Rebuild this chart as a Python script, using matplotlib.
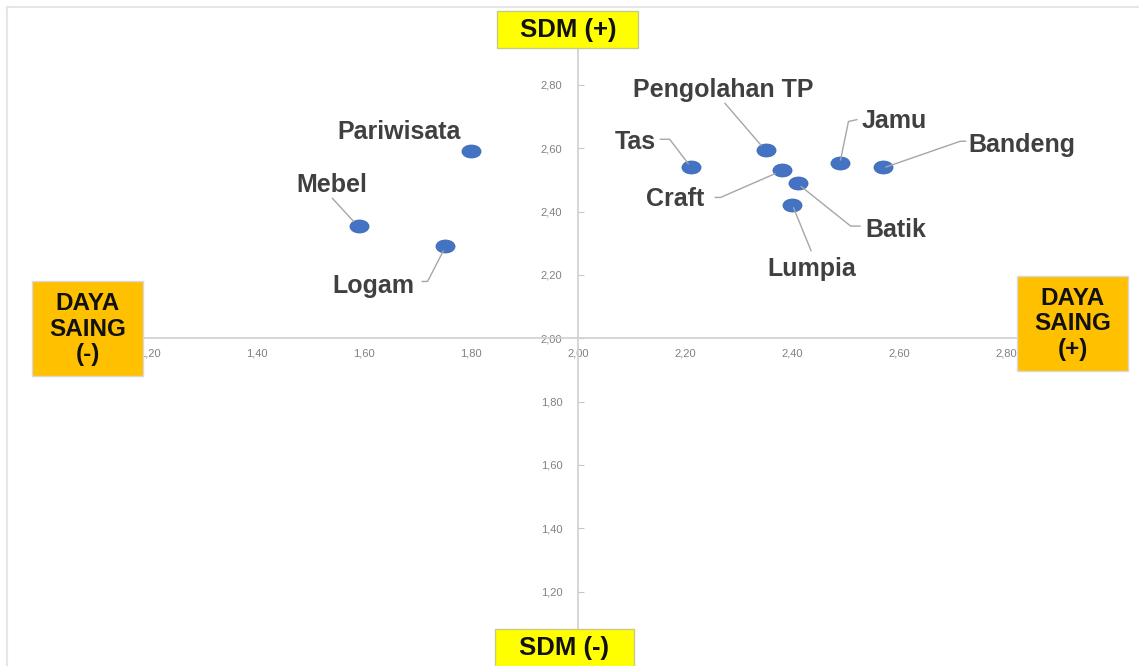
import matplotlib
matplotlib.use("Agg")
import matplotlib.pyplot as plt
from matplotlib.path import Path
from matplotlib.patches import Rectangle
from matplotlib.lines import Line2D
from matplotlib.transforms import Affine2D
from matplotlib.ticker import FuncFormatter, FixedLocator

plt.rcParams['font.family'] = ['Liberation Sans', 'DejaVu Sans']

# Sector scores: competitiveness (x) vs. human resources (y)
sectors = ["Pariwisata", "Mebel", "Logam", "Tas", "Pengolahan TP",
           "Craft", "Batik", "Lumpia", "Jamu", "Bandeng"]
daya_saing = [1.80, 1.59, 1.75, 2.21, 2.35, 2.38, 2.41, 2.40, 2.49, 2.57]
sdm = [2.59, 2.355, 2.29, 2.54, 2.595, 2.53, 2.49, 2.42, 2.555, 2.54]

x_ticks = [1.20, 1.40, 1.60, 1.80, 2.00, 2.20, 2.40, 2.60, 2.80]
y_ticks = [1.20, 1.40, 1.60, 1.80, 2.00, 2.20, 2.40, 2.60, 2.80]
origin = (2.0, 2.0)

# Label placement in pixels relative to each marker (x right, y down):
# text anchor (centre, baseline) and leader-line vertices
label_offset = {
    "Pariwisata": (-72, -12),
    "Mebel": (-27, -34),
    "Logam": (-71, 47),
    "Tas": (-55, -18),
    "Pengolahan TP": (-42, -53),
    "Craft": (-106, 36),
    "Batik": (98, 54),
    "Lumpia": (19, 71),
    "Jamu": (54, -35),
    "Bandeng": (139, -15),
}
leader = {
    "Pariwisata": [],
    "Mebel": [(-27, -28), (-5, -4)],
    "Logam": [(-23, 35), (-17, 35), (-1, 4)],
    "Tas": [(-31, -28), (-21, -28), (-2, -3)],
    "Pengolahan TP": [(-41, -47), (-4, -4)],
    "Craft": [(-67, 27), (-61, 27), (-6, 3)],
    "Batik": [(3, 3), (53, 43), (63, 43)],
    "Lumpia": [(1, 2), (19, 46)],
    "Jamu": [(0, -2), (8, -41), (17, -43)],
    "Bandeng": [(2, 0), (77, -26), (83, -26)],
}

W, H, DPI = 1139, 666, 100
fig = plt.figure(figsize=(W / DPI, H / DPI), dpi=DPI, facecolor="white")
ax = fig.add_axes([140 / W, 36 / H, 880 / W, 585 / H])
ax.set_xlim(1.1807, 2.8256)
ax.set_ylim(1.079, 2.926)
ax.set_facecolor("none")

# Axes crossing at the origin of the quadrant
for side in ("top", "right"):
    ax.spines[side].set_visible(False)
ax.spines["left"].set_position(("data", origin[0]))
ax.spines["bottom"].set_position(("data", origin[1]))
for side in ("left", "bottom"):
    ax.spines[side].set_color("#d0d0d0")
    ax.spines[side].set_linewidth(1.2)

fmt = FuncFormatter(lambda v, _: f"{v:.2f}".replace(".", ","))
ax.xaxis.set_major_locator(FixedLocator(x_ticks))
ax.yaxis.set_major_locator(FixedLocator(y_ticks))
ax.xaxis.set_major_formatter(fmt)
ax.yaxis.set_major_formatter(fmt)
ax.tick_params(axis="y", direction="in", length=4, color="#c8c8c8",
               pad=11.5, labelsize=8, labelcolor="#808080")
ax.tick_params(axis="x", direction="in", length=0, pad=7,
               labelsize=8, labelcolor="#808080")

# Elliptical markers
ellipse = Path.unit_circle().transformed(Affine2D().scale(1.0, 0.68))
ax.plot(daya_saing, sdm, linestyle="none", marker=ellipse, markersize=13.7,
        markerfacecolor="#4573c4", markeredgecolor="#3c67b3",
        markeredgewidth=0.6, zorder=3)

to_data = ax.transData.inverted()
for name, x, y in zip(sectors, daya_saing, sdm):
    px, py = ax.transData.transform((x, y))
    pts = leader[name]
    if pts:
        verts = to_data.transform([(px + dx, py - dy) for dx, dy in pts])
        ax.plot(verts[:, 0], verts[:, 1], color="#a6a6a6", lw=1.0,
                zorder=4, clip_on=False, solid_capstyle="butt")
    dx, dy = label_offset[name]
    ax.annotate(name, xy=(x, y), xytext=(dx, -dy), textcoords="offset pixels",
                ha="center", va="baseline", fontsize=18,
                fontweight="bold", color="#404040", zorder=5)


def quadrant_box(x0, y0, x1, y1, face, edge, text, cx, cy, size, spacing=1.0):
    fig.add_artist(Rectangle((x0 / W, 1 - y1 / H), (x1 - x0) / W,
                             (y1 - y0) / H, transform=fig.transFigure,
                             facecolor=face, edgecolor=edge, lw=1.0,
                             zorder=10))
    fig.text(cx / W, 1 - cy / H, text, ha="center", va="center",
             fontsize=size, fontweight="bold", color="#111111",
             linespacing=spacing, zorder=11)


quadrant_box(497, 11, 638, 48, "#ffff00", "#c9c98a", "SDM (+)", 568, 30, 18.5)
quadrant_box(495, 629, 634, 672, "#ffff00", "#c9c98a", "SDM (-)", 564, 648, 18.5)
quadrant_box(32, 281, 143, 376, "#ffc000", "#d8d8d8", "DAYA\nSAING\n(-)",
             87.5, 329, 17.5, 1.15)
quadrant_box(1017, 276, 1128, 371, "#ffc000", "#d8d8d8", "DAYA\nSAING\n(+)",
             1072.5, 324, 17.5, 1.15)

# Faint frame around the panel
fig.add_artist(Line2D([7 / W, 7 / W], [0, 1 - 7 / H], transform=fig.transFigure,
                      color="#e6e6e6", lw=1.5))
fig.add_artist(Line2D([7 / W, 1], [1 - 7 / H, 1 - 7 / H], transform=fig.transFigure,
                      color="#e6e6e6", lw=1.5))

fig.savefig("out.png", dpi=DPI, facecolor="white")
